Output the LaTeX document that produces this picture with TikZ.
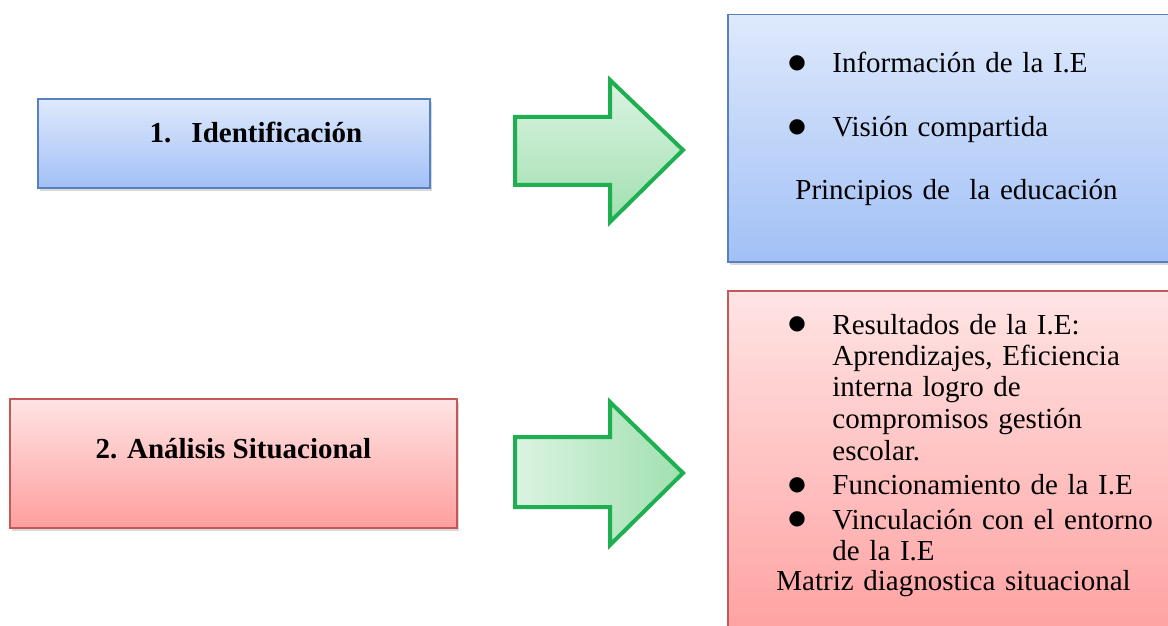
\documentclass[tikz,border=0pt]{standalone}
\usepackage{fontspec}
\setmainfont{Liberation Serif}
\newfontfamily\bulletfont{DejaVu Sans}
\usepackage{tikz}
\usetikzlibrary{positioning,shadows}

\definecolor{boxblue}{RGB}{86,128,190}
\definecolor{bluetop}{RGB}{222,233,252}
\definecolor{bluebottom}{RGB}{162,192,246}
\definecolor{boxred}{RGB}{196,88,86}
\definecolor{redtop}{RGB}{255,228,228}
\definecolor{redbottom}{RGB}{255,158,158}
\definecolor{arrowgreen}{RGB}{30,176,80}
\definecolor{greenlight}{RGB}{220,243,226}
\definecolor{greendark}{RGB}{160,224,176}

\newcommand{\bigdot}{\raisebox{2pt}{\bulletfont\fontsize{10}{10}\selectfont ●}}
\newcommand{\bitem}[1]{\hangindent=28pt\hangafter=1\noindent\makebox[28pt][l]{\hspace{6pt}\bigdot}#1}

\begin{document}
\begin{tikzpicture}[
				x=0.5pt,y=-0.5pt,
				box/.style={draw,line width=0.75pt,drop shadow={opacity=0.3,shadow xshift=1pt,shadow yshift=-1.5pt}},
				bluebox/.style={box,draw=boxblue,top color=bluetop,bottom color=bluebottom},
				redbox/.style={box,draw=boxred,top color=redtop,bottom color=redbottom},
				greenarrow/.style={draw=arrowgreen,line width=2pt,line join=miter},
				listtext/.style={anchor=base west,inner sep=0pt,text width=200pt,
					font=\fontsize{14.5}{15.75}\selectfont},
				title/.style={font=\fontsize{14.5}{15.75}\selectfont\bfseries,text height=8pt}
			]
			\clip (0,0) rectangle (1168,626);
			
			\node [bluebox,title,text depth=8.5pt,minimum width=196pt,minimum height=44.5pt] (ident) at (234,143.5) {\hspace{22pt}1.\hspace{10pt}Identificación};
			\node [redbox,title,text depth=13.5pt,minimum width=223.5pt,minimum height=64.5pt] (situ) at (233.5,463.5) {2. Análisis Situacional};
			
			\node [bluebox,anchor=north west,minimum width=230pt,minimum height=123.5pt] (infobox) at (727,14) {};
			\node [redbox,anchor=north west,minimum width=230pt,minimum height=180pt] (diagbox) at (727,290) {};
			
			\node [listtext] (infotext) at (776,73) {\raggedright
				\bitem{Información de la I.E}\par\vspace{16.25pt}
				\bitem{Visión compartida}\par\vspace{15.5pt}
				\noindent\hspace{9.5pt}Principios de~ la educación};
			\node [listtext] (diagtext) at (776,334) {\raggedright
				\bitem{Resultados de la I.E:\newline Aprendizajes, Eficiencia\newline interna logro de\newline compromisos gestión\newline escolar.}\par\vspace{1.5pt}
				\bitem{Funcionamiento de la I.E}\par\vspace{1.5pt}
				\bitem{Vinculación con el entorno\newline de la I.E}\par\vspace{-1pt}
				\noindent Matriz diagnostica situacional};
			
			\draw [greenarrow,top color=greenlight,bottom color=greendark] (515,117) -- (610,117) -- (610,80) -- (683,150) -- (610,222) -- (610,185) -- (515,185) -- cycle;
			\draw [greenarrow,left color=greenlight,right color=greendark] (515,437) -- (610,437) -- (610,402) -- (683,473) -- (610,545) -- (610,507) -- (515,507) -- cycle;
		\end{tikzpicture}
\end{document}
